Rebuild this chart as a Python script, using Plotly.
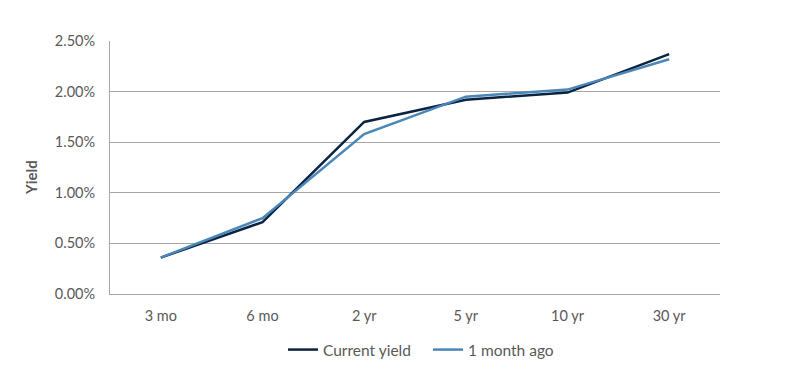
import plotly.graph_objects as go

categories = ["3 mo", "6 mo", "2 yr", "5 yr", "10 yr", "30 yr"]
current_yield = [0.0036, 0.0071, 0.0170, 0.0192, 0.0199, 0.0237]
month_ago = [0.0036, 0.0075, 0.0158, 0.0195, 0.0202, 0.0232]
y_ticks = [0, 0.005, 0.01, 0.015, 0.02, 0.025]

fig = go.Figure()
fig.add_trace(go.Scatter(x=categories, y=current_yield, mode="lines", name="Current yield",
                         line=dict(color="#0b2341", width=2.5)))
fig.add_trace(go.Scatter(x=categories, y=month_ago, mode="lines", name="1 month ago",
                         line=dict(color="#4a86b8", width=2.5)))

fam = "Lato, Open Sans, sans-serif"
font = dict(family=fam, size=14.5, color="#595959")
fig.update_layout(
    width=800, height=374,
    margin=dict(l=102, r=88, t=33, b=88, autoexpand=False),
    plot_bgcolor="white", paper_bgcolor="white",
    font=font,
    showlegend=True,
    legend=dict(orientation="h", x=(283 - 8) / 800, xanchor="left", xref="container",
                y=1 - 342 / 374, yanchor="middle", yref="container",
                font=dict(family=fam, size=15.5, color="#595959"),
                itemwidth=30, tracegroupgap=0, entrywidth=100, entrywidthmode="pixels"),
    xaxis=dict(showgrid=False, showline=True, linecolor="#a6a6a6", linewidth=1,
               ticks="", tickfont=font, range=[-0.5, 5.5], automargin=False,
               ticklabelstandoff=9),
    yaxis=dict(range=[0, 0.025], tickvals=y_ticks, tickformat=".2%",
               showgrid=True, gridcolor="#a6a6a6", gridwidth=1,
               showline=True, linecolor="#a6a6a6", linewidth=1,
               zeroline=False, tickfont=font, ticks="", automargin=False,
               ticklabelstandoff=11),
    annotations=[dict(text="<b>Yield</b>", textangle=-90, xref="paper", yref="paper",
                      x=(31 - 110) / 610, y=(294 - 178) / 253, xanchor="center", yanchor="middle",
                      showarrow=False, font=dict(family=fam, size=15, color="#595959"))],
)
fig.write_html("out.html")
